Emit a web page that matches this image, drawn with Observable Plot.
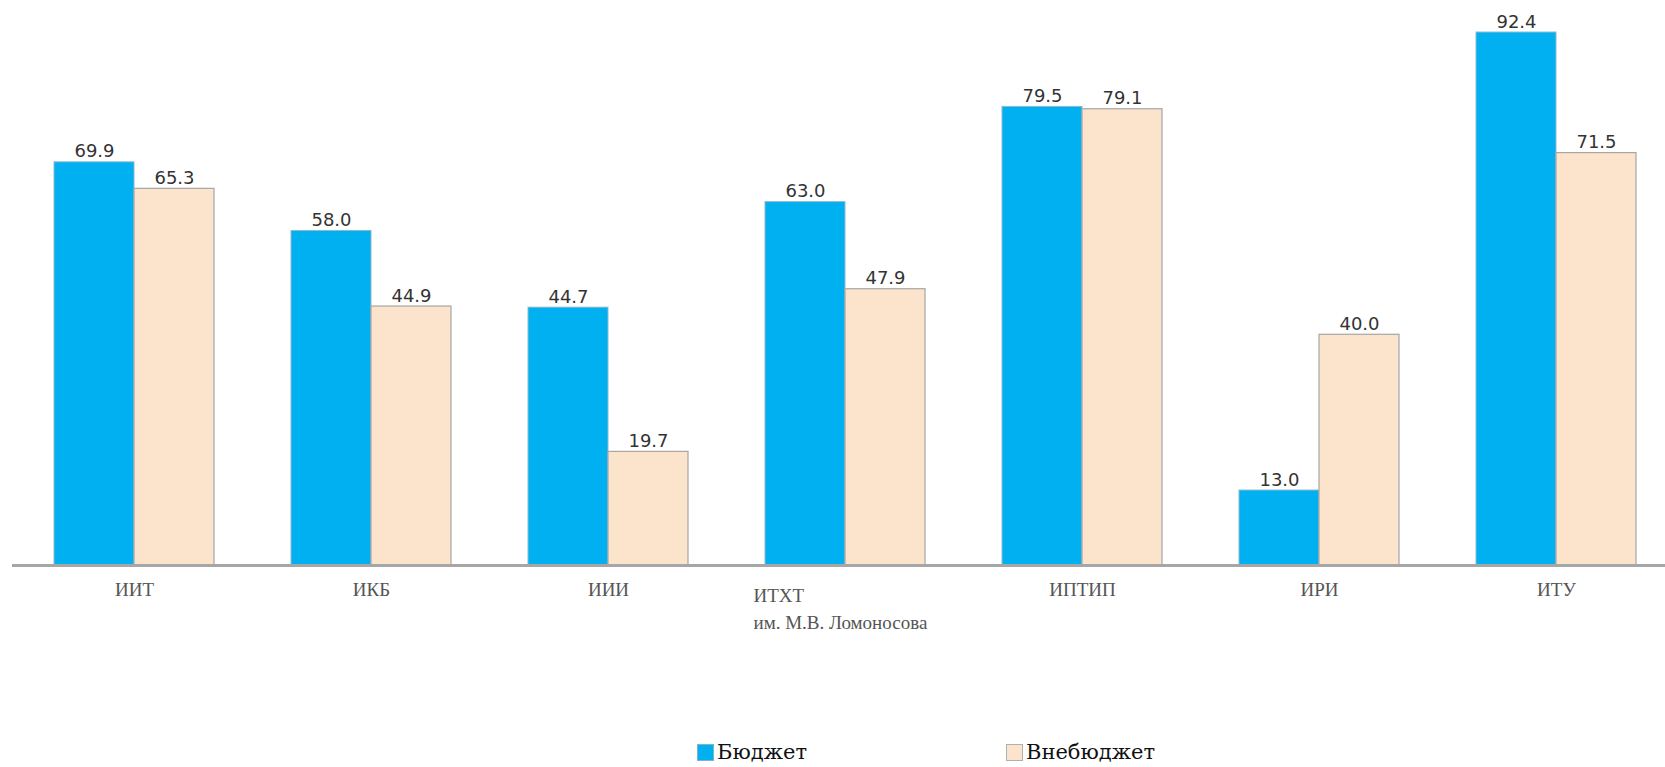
<!DOCTYPE html>
<html>
<head>
<meta charset="utf-8">
<script src="https://cdn.jsdelivr.net/npm/d3@7"></script>
<script src="https://cdn.jsdelivr.net/npm/@observablehq/plot@0.6"></script>
<style>
  html, body { margin: 0; padding: 0; background: #fff; }
  #wrap { position: relative; width: 1665px; height: 767px; overflow: hidden; }
  .leg { position: absolute; display: flex; align-items: center; font-family: "DejaVu Serif", serif; font-size: 21px; color: #111; line-height: 1; }
  .sw { width: 17px; height: 17px; margin-right: 3px; box-sizing: border-box; }
</style>
</head>
<body>
<div id="wrap"></div>
<script>
// Data
const institutes = ["ИИТ", "ИКБ", "ИИИ", "ИТХТ\nим. М.В. Ломоносова", "ИПТИП", "ИРИ", "ИТУ"];
const budget = [69.9, 58.0, 44.7, 63.0, 79.5, 13.0, 92.4];
const offBudget = [65.3, 44.9, 19.7, 47.9, 79.1, 40.0, 71.5];
const seriesNames = ["Бюджет", "Внебюджет"];
const seriesColors = ["#00b0f0", "#fce4cc"];

const rowsB = institutes.map((k, i) => ({inst: k, value: budget[i]}));
const rowsO = institutes.map((k, i) => ({inst: k, value: offBudget[i]}));
const fmt = d3.format(".1f");
const half = 80;

const chart = Plot.plot({
  width: 1665,
  height: 700,
  marginLeft: 12,
  marginRight: 0,
  marginTop: 0,
  marginBottom: 0,
  style: {background: "#fff"},
  x: {type: "band", domain: institutes, range: [13.25, 1675.75], paddingInner: 0.326, paddingOuter: 0.163, align: 0.5, axis: null},
  y: {domain: [0, 100], range: [565, -11.8], axis: null},
  marks: [
    Plot.barY(rowsB, {x: "inst", y: "value", fill: seriesColors[0], stroke: "#8fb9cc", strokeWidth: 1, insetRight: half}),
    Plot.barY(rowsO, {x: "inst", y: "value", fill: seriesColors[1], stroke: "#a6a6a6", strokeWidth: 1.2, insetLeft: half}),
    Plot.ruleY([0], {stroke: "#a6a6a6", strokeWidth: 3}),
    Plot.text(rowsB, {x: "inst", y: "value", text: d => fmt(d.value), dx: -half / 2, dy: -5, lineAnchor: "bottom", fontSize: 18, fontFamily: "DejaVu Sans", fill: "#333"}),
    Plot.text(rowsO, {x: "inst", y: "value", text: d => fmt(d.value), dx: half / 2, dy: -5, lineAnchor: "bottom", fontSize: 18, fontFamily: "DejaVu Sans", fill: "#333"}),
    Plot.text(institutes.filter(d => !d.includes("\n")), {x: d => d, y: 0, text: d => d, dy: 24, lineAnchor: "middle", fontSize: 19, fontFamily: "Liberation Serif", fill: "#555"}),
    Plot.text(institutes.filter(d => d.includes("\n")), {x: d => d, y: 0, text: d => d, dy: 16.6, dx: -92, textAnchor: "start", lineAnchor: "top", lineHeight: 1.45, fontSize: 19, fontFamily: "Liberation Serif", fill: "#555"})
  ]
});

const wrap = document.getElementById("wrap");
wrap.appendChild(chart);

const legendLefts = [697, 1006];
seriesNames.forEach((name, i) => {
  const item = document.createElement("div");
  item.className = "leg";
  item.style.left = legendLefts[i] + "px";
  item.style.top = "742px";
  const sw = document.createElement("span");
  sw.className = "sw";
  sw.style.background = seriesColors[i];
  sw.style.border = "1px solid " + (i === 0 ? "#7fb3c8" : "#b0b0b0");
  const tx = document.createElement("span");
  tx.textContent = name;
  item.appendChild(sw);
  item.appendChild(tx);
  wrap.appendChild(item);
});
</script>
</body>
</html>
